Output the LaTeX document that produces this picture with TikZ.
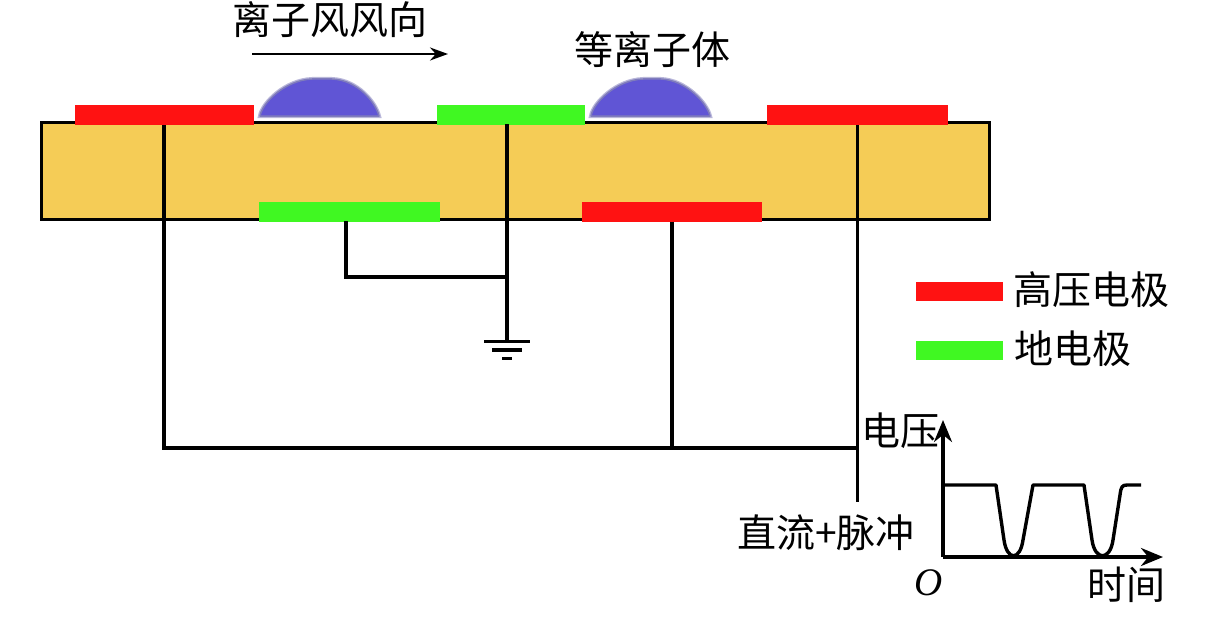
\documentclass[tikz,border=0pt]{standalone}
\usepackage{fontspec}
\setmainfont{Liberation Serif}
\newfontfamily\cjk{Noto Sans CJK SC}
\usetikzlibrary{arrows.meta,positioning}

\definecolor{hvred}{HTML}{FF1212}
\definecolor{gndgreen}{HTML}{40F822}
\definecolor{boardyellow}{HTML}{F5CC56}
\definecolor{plasmablue}{HTML}{6055D5}
\definecolor{plasmaedge}{HTML}{7F7CBC}

\tikzset{
	wire/.style={line width=3.6pt},
	electrode/.style={rectangle, inner sep=0pt, minimum width=180pt, minimum height=20pt},
	hv/.style={electrode, fill=hvred},
	gnd/.style={electrode, fill=gndgreen},
	swatch/.style={rectangle, inner sep=0pt, minimum width=87pt, minimum height=19pt},
	label/.style={inner sep=0pt, font=\cjk\fontsize{39}{42}\selectfont},
	plasma/.style={fill=plasmablue, draw=plasmaedge, line width=1.5pt, line join=round, preaction={draw=plasmaedge!55!white, line width=4pt}},
	axis/.style={line width=3.4pt, -{Stealth[length=22pt,width=18pt]}},
}

\begin{document}
\begin{tikzpicture}[x=1pt,y=-1pt]
		\useasboundingbox (0,0) rectangle (1210,618);

		\draw (515.5,171) node [rectangle, draw, line width=3.6pt, fill=boardyellow, inner sep=0pt, minimum width=948pt, minimum height=97pt] (board) {};

		\draw [plasma] (260,116) .. controls (262,103) and (285,80) .. (312,79) -- (332,79) .. controls (358,80) and (376,103) .. (379,116) -- cycle;
		\draw [plasma] (591,116) .. controls (593,103) and (616,80) .. (643,79) -- (661,79) .. controls (686,80) and (707,103) .. (710,116) -- cycle;

		\draw (164,115) node [hv, minimum width=179pt] (hvleft) {};
		\draw (511,115) node [gnd, minimum width=148pt] (gndtop) {};
		\draw (857.5,115) node [hv, minimum width=181pt] (hvright) {};
		\draw (349.5,211.5) node [gnd, minimum width=181pt] (gndbottom) {};
		\draw (672,211.5) node [hv] (hvbottom) {};

		\coordinate (gndtopfoot) at (507,124);
		\coordinate (gndbottomfoot) at (346,221);
		\coordinate (gndjoin) at (507,277);
		\coordinate (earth) at (507,341);
		\coordinate (bus) at (672,448);
		\coordinate (supply) at (857.5,502);

		\draw [wire]
			(hvleft.south) |- (supply |- bus)
			(hvright.south) -- (supply)
			(hvbottom.south) -- (bus)
			(gndtopfoot) -- (earth)
			(gndbottomfoot) |- (gndjoin)
		;

		% earth symbol
		\coordinate (earthaa) at (484,341.5);
		\coordinate (earthab) at (530,341.5);
		\coordinate (earthba) at (492,350);
		\coordinate (earthbb) at (522,350);
		\coordinate (earthca) at (502,358.5);
		\coordinate (earthcb) at (512,358.5);
		\draw [wire]
			(earthaa) -- (earthab)
			(earthba) -- (earthbb)
			(earthca) -- (earthcb)
		;

		% labels on top
		\draw (330,20) node [label] (wind) {离子风风向};
		\coordinate (windstart) at (252,54);
		\coordinate (windend) at (448,54);
		\draw [line width=2.4pt, -{Stealth[length=18pt,width=13pt]}] (windstart) -- (windend);
		\draw (652,50) node [label] (plasmatext) {等离子体};

		% legend
		\draw (959.5,291.5) node [swatch, fill=hvred] (keyhv) {};
		\draw (959.5,350) node [swatch, fill=gndgreen] (keygnd) {};
		\draw (1091,290) node [label] (keyhvtext) {高压电极};
		\draw (1073,349) node [label] (keygndtext) {地电极};

		% waveform
		\coordinate (origin) at (943,557);
		\coordinate (ytip) at (943,420);
		\coordinate (xtip) at (1163,557);
		\draw [axis] (origin) -- (ytip);
		\draw [axis] (origin) -- (xtip);
		\draw [line width=3.4pt, line join=round] (943,485) -- (996,485) -- (1004,540) .. controls (1007,561) and (1020,561) .. (1023,540) -- (1033,485) -- (1084,485) -- (1092,540) .. controls (1095,561) and (1110,561) .. (1113,540) -- (1120,495) .. controls (1121,487) and (1122,485) .. (1127,485) -- (1141,485);

		\draw (900,431) node [label] (voltage) {电压};
		\draw (826,533) node [label] (source) {直流+脉冲};
		\draw (929,583) node [inner sep=0pt, font=\itshape\fontsize{39}{42}\selectfont] (originlabel) {O};
		\draw (1126,585) node [label] (time) {时间};
	\end{tikzpicture}
\end{document}
